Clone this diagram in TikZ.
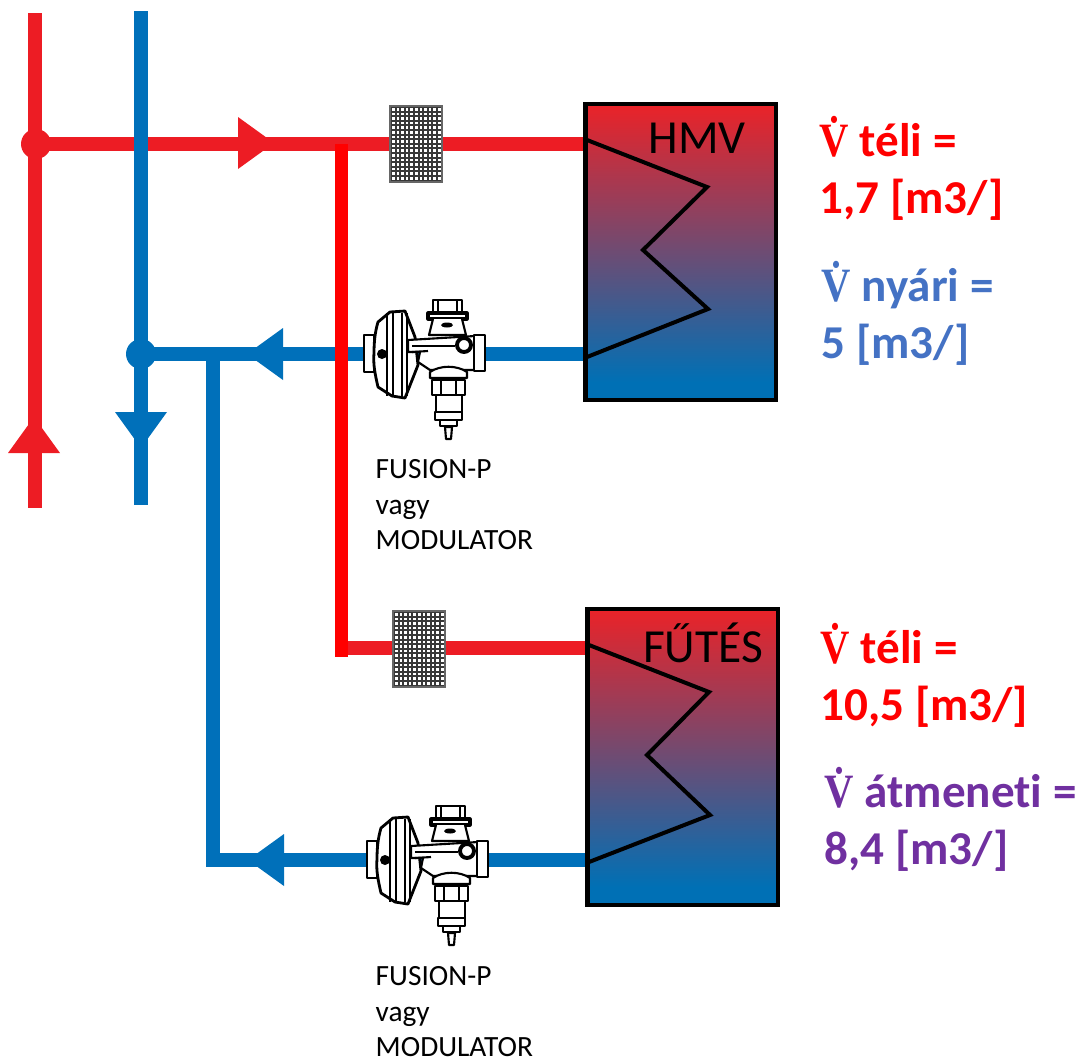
\documentclass[tikz,border=0pt]{standalone}
\usepackage{fontspec}
\setmainfont[Ligatures=NoCommon]{Carlito}
\newfontfamily\vfont[FakeStretch=0.85]{Liberation Serif}
\usepackage{tikz}
\definecolor{hotred}{HTML}{ED1C24}
\definecolor{purered}{HTML}{FF0000}
\definecolor{coldblue}{HTML}{0070BA}
\definecolor{tanktop}{HTML}{EC2227}
\definecolor{tankmid}{HTML}{905C70}
\definecolor{tanklow}{HTML}{0070B5}
\definecolor{nyariblue}{HTML}{4472C4}
\definecolor{atmpurple}{HTML}{7030A0}
\newcommand{\vdotsym}{\smash{\vfont\fontsize{13.6}{16}\selectfont\.V}}
\tikzset{
  hotpipe/.style={draw=hotred, line width=14*0.01cm},
  coldpipe/.style={draw=coldblue, line width=14*0.01cm},
  tankshade/.style={top color=tanktop, middle color=tankmid, bottom color=tanklow},
  flowlabel/.style={anchor=north west, inner sep=0pt, align=left,
    font=\fontsize{13.4}{16.2}\selectfont\bfseries},
  valvelabel/.style={anchor=north west, inner sep=0pt, align=left,
    font=\fontsize{8.35}{10.1}\selectfont},
  tanklabel/.style={anchor=base, inner sep=0pt, font=\fontsize{13.5}{16}\selectfont},
  vpart/.style={draw=black, fill=white, line width=0.6pt, line join=round},
  flowtip/.pic={\fill (0,-26) -- (0,26) -- (36,0) -- cycle;},
  % szuro
  strainer/.pic={
    \fill[black!78] (0,0) rectangle (52,76);
    \foreach \i in {0,...,10} \foreach \j in {0,...,15}
      \fill[white] (2+\i*4.6,2+\j*4.6) rectangle +(2.6,2.6);
    \draw[black!60, line width=0.4pt] (0,0) rectangle (52,76);
  },
  % szabalyozo szelep
  valve/.pic={
    \draw[vpart] (-61,-19) rectangle (-51,18);
    % membran
    \draw[vpart, line width=0.8pt] (-35,-42) -- (-20,-43) -- (-10,-17) -- (-7,11) -- (-20,44) -- (-33,42)
      -- (-47,33) .. controls (-50,20) and (-52,10) .. (-51,-1)
      .. controls (-51,-12) and (-50,-22) .. (-47,-32) -- cycle;
    \foreach \k in {-38,-32,-23,-18} \draw[vpart] (\k,-41) -- (\k,42);
    \fill (-43,0) circle (5);
    % felso fej
    \draw[vpart] (8,-54) rectangle (37,-42);
    \draw[vpart] (13,-54) -- (13,-42) (32,-54) -- (32,-42);
    \draw[vpart, line width=0.9pt] (3,-41) rectangle (42,-35);
    \draw[vpart] (8,-35) -- (4,-19) -- (41,-19) -- (37,-35);
    \fill (22,-29) ellipse (6 and 2.5);
    % test
    \draw[vpart] (-17,-14) -- (50,-18) -- (50,16) -- (5,16) -- (-7,8) -- (-5,-2) -- (-17,-2) -- cycle;
    \draw[vpart] (-13,-8) -- (30,-8);
    \draw[vpart] (-13,-2) -- (3,-3);
    \draw[vpart] (49,-19) rectangle (60,17);
    \draw[vpart, line width=1.1pt] (39,-9) circle (7);
    % also csonk
    \draw[vpart] (5,24) -- (5,18) .. controls (15,11) and (32,11) .. (42,18) -- (42,24) -- cycle;
    \draw[vpart, line width=0.8pt] (7,26) rectangle (40,41);
    \draw[vpart] (16,26) -- (16,41) (31,26) -- (31,41);
    \draw[vpart] (11,41) rectangle (37,58);
    \draw[vpart, line width=0.8pt] (10,58) rectangle (37,66);
    \draw[vpart] (15,66) rectangle (32,72);
    \draw[vpart] (20,73) -- (21,85) -- (26,85) -- (27,73) -- cycle;
  }
}
\begin{document}
\begin{tikzpicture}[x=0.01cm, y=-0.01cm]
\useasboundingbox (0,0) rectangle (1082,1060);
% Vezetekek
\coordinate (hotjoint) at (36,144);
\coordinate (coldjoint) at (141,354);
\coordinate (hotbranch) at (341,144);
\coordinate (coldbranch) at (213,354);
\coordinate (hotlow) at (341,648);
\coordinate (coldlow) at (213,860);
\coordinate (hottop) at (34.5,13);
\coordinate (hotend) at (34.5,508);
\coordinate (coldtop) at (140.5,11);
\coordinate (coldend) at (140.5,505);
\coordinate (hmvin) at (587,144);
\coordinate (hmvout) at (587,354);
\coordinate (futin) at (589,648);
\coordinate (futout) at (589,860);
\draw[hotpipe] (hottop) -- (hotend);
\draw[hotpipe] (hotjoint) -- (hmvin);
\draw[hotpipe] (hotlow) -- (futin);
\draw[coldpipe] (coldtop) -- (coldend);
\draw[coldpipe] (coldjoint) -- (hmvout);
\draw[coldpipe] (coldlow) -- (futout);
\draw[coldpipe] (coldbranch) -- (213,867);
\draw[draw=purered, line width=13*0.01cm] (hotbranch) -- (341,657);
\fill[hotred] (hotjoint) circle (15);
\fill[coldblue] (coldjoint) circle (15);
% Tarolok
\fill[tanklow] (585,102) rectangle (777,402);
\shade[tankshade] (585,102) rectangle (777,382);
\fill[tanklow] (587,607) rectangle (779,907);
\shade[tankshade] (587,607) rectangle (779,887);
\draw[line width=4*0.01cm] (587,140) -- (707,187) -- (643,250) -- (708,309) -- (587,357);
\draw[line width=4*0.01cm] (589,645) -- (709,692) -- (647,755) -- (710,815) -- (589,862);
\draw[line width=4.5*0.01cm] (585.5,104) rectangle (776,400);
\draw[line width=4.5*0.01cm] (587.5,609) rectangle (778,905);
\node[tanklabel] (hmv) at (697,153) {HMV};
\node[tanklabel] (futes) at (703,662) {FŰTÉS};
% Nyilak
\pic[color=hotred] at (238,143) {flowtip};
\pic[color=hotred, rotate=90] at (34,453) {flowtip};
\pic[color=coldblue, rotate=-90] at (141,412) {flowtip};
\pic[color=coldblue, rotate=180] at (283,354) {flowtip};
\pic[color=coldblue, rotate=180] at (284,860) {flowtip};
% Szurok, szelepek
\pic at (390,106) {strainer};
\pic at (393,611) {strainer};
\pic at (425,354) {valve};
\pic at (428,860) {valve};
\node[valvelabel] (labela) at (375,459) {FUSION-P\\vagy\\MODULATOR};
\node[valvelabel] (labelb) at (375,966) {FUSION-P\\vagy\\MODULATOR};
% Terfogataramok
\node[flowlabel, text=purered] (teli1) at (819,123) {\vdotsym{} téli =\\1,7 [m3/]};
\node[flowlabel, text=nyariblue] (nyari) at (821,268) {\vdotsym{} nyári =\\5 [m3/]};
\node[flowlabel, text=purered] (teli2) at (820,630) {\vdotsym{} téli =\\10,5 [m3/]};
\node[flowlabel, text=atmpurple] (atmeneti) at (824,774) {\vdotsym{} átmeneti =\\8,4 [m3/]};
\end{tikzpicture}
\end{document}
